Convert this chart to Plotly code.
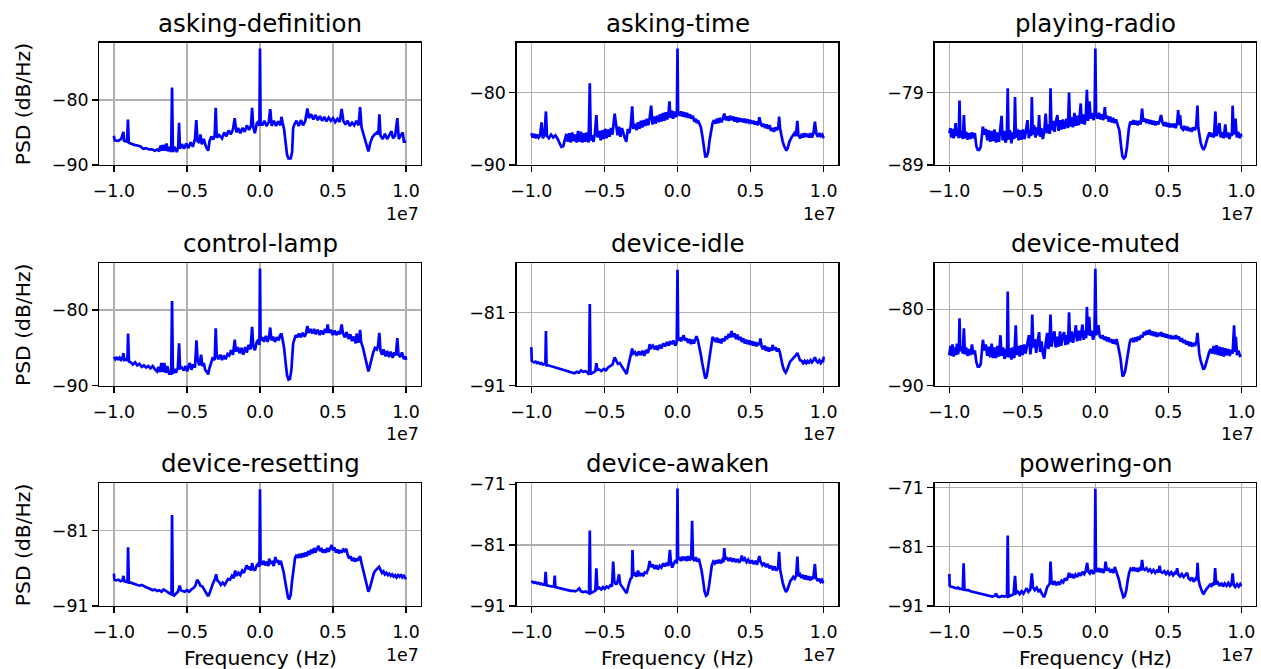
import numpy as np
import plotly.graph_objects as go

# ---------------- DATA (frequency in MHz, PSD in dB/Hz) ----------------
PANEL_TITLES = ["asking-definition", "asking-time", "playing-radio",
                "control-lamp", "device-idle", "device-muted",
                "device-resetting", "device-awaken", "powering-on"]

asking_definition = [
(-10.0,-85.5),(-9.95,-86.2),(-9.7,-86.3),(-9.5,-86.0),(-9.35,-84.9),(-9.3,-86.3),(-9.1,-86.4),(-9.04,-83.0),(-8.98,-86.6),
(-8.8,-86.8),(-8.6,-86.9),(-8.4,-87.0),(-8.2,-87.1),(-8.0,-87.5),(-7.8,-87.4),(-7.6,-87.6),(-7.4,-87.6),(-7.2,-87.8),
(-7.0,-87.6),(-6.9,-87.9),(-6.8,-87.0),(-6.7,-87.8),(-6.6,-86.9),(-6.5,-87.8),(-6.4,-86.7),(-6.3,-87.9),(-6.2,-87.2),
(-6.08,-88.0),(-6.02,-78.1),(-5.96,-88.0),(-5.85,-87.2),(-5.7,-88.0),(-5.6,-87.3),(-5.54,-83.5),(-5.48,-87.5),(-5.35,-86.8),
(-5.2,-87.5),(-5.05,-86.7),(-4.9,-87.4),(-4.75,-86.5),(-4.6,-87.2),(-4.45,-86.0),(-4.36,-83.1),(-4.28,-86.3),(-4.15,-86.6),
(-4.08,-85.3),(-3.98,-86.8),(-3.85,-86.0),(-3.7,-87.2),(-3.55,-87.8),(-3.45,-86.3),(-3.33,-85.6),(-3.2,-86.1),(-3.1,-85.4),
(-3.03,-81.2),(-2.96,-85.8),(-2.8,-85.4),(-2.6,-85.9),(-2.45,-85.0),(-2.3,-85.6),(-2.15,-84.7),(-2.0,-85.3),(-1.85,-84.5),
(-1.73,-82.8),(-1.62,-85.0),(-1.5,-84.3),(-1.35,-85.1),(-1.2,-84.3),(-1.05,-84.9),(-0.9,-83.9),(-0.75,-84.6),(-0.62,-84.0),
(-0.54,-81.2),(-0.46,-84.2),(-0.35,-85.1),(-0.22,-83.6),(-0.1,-83.3),(-0.04,-84.0),(0.0,-72.1),(0.04,-83.5),(0.15,-83.9),
(0.3,-83.2),(0.45,-84.0),(0.6,-83.4),(0.7,-81.4),(0.8,-84.0),(0.95,-83.2),(1.1,-84.0),(1.25,-83.3),(1.4,-83.9),(1.47,-82.6),
(1.55,-83.5),(1.65,-84.5),(1.75,-86.5),(1.85,-88.4),(1.95,-89.0),(2.1,-89.0),(2.2,-88.0),(2.27,-84.3),(2.35,-83.8),(2.5,-83.2),
(2.65,-84.0),(2.8,-83.1),(2.95,-83.9),(3.1,-83.2),(3.24,-81.3),(3.35,-82.8),(3.5,-82.2),(3.65,-83.0),(3.8,-82.3),(3.95,-83.1),
(4.1,-82.5),(4.25,-83.2),(4.4,-82.6),(4.55,-83.3),(4.7,-82.7),(4.85,-83.2),(5.0,-82.8),(5.15,-83.4),(5.3,-82.9),(5.45,-83.4),
(5.59,-81.4),(5.7,-83.2),(5.85,-83.8),(6.0,-83.2),(6.15,-84.0),(6.3,-83.5),(6.45,-83.9),(6.6,-83.2),(6.75,-83.9),(6.85,-81.1),
(6.95,-84.2),(7.1,-85.4),(7.25,-86.8),(7.42,-87.9),(7.55,-86.6),(7.7,-85.7),(7.85,-85.3),(8.0,-85.0),(8.1,-85.3),(8.17,-82.2),
(8.25,-85.5),(8.4,-86.0),(8.55,-85.2),(8.7,-86.0),(8.85,-85.4),(9.0,-84.8),(9.1,-85.9),(9.25,-85.5),(9.4,-82.8),(9.5,-86.0),
(9.6,-85.6),(9.77,-85.0),(9.85,-86.4),(10.0,-86.4)]

asking_time = [
(-10.0,-85.6),(-9.9,-86.2),(-9.8,-85.7),(-9.7,-86.3),(-9.6,-85.8),(-9.5,-86.2),(-9.4,-85.9),(-9.3,-84.1),(-9.22,-86.3),
(-9.1,-85.9),(-9.0,-82.6),(-8.93,-86.0),(-8.8,-86.3),(-8.65,-85.8),(-8.5,-86.2),(-8.35,-85.9),(-8.2,-86.4),(-8.05,-87.2),
(-7.95,-87.5),(-7.82,-87.4),(-7.7,-86.4),(-7.6,-85.7),(-7.5,-86.8),(-7.4,-85.6),(-7.3,-86.9),(-7.2,-85.5),(-7.1,-86.7),
(-7.0,-85.8),(-6.9,-86.9),(-6.8,-85.3),(-6.7,-86.8),(-6.6,-85.4),(-6.5,-86.9),(-6.4,-85.6),(-6.3,-86.8),(-6.2,-85.5),
(-6.08,-86.9),(-6.0,-78.7),(-5.93,-86.6),(-5.85,-85.9),(-5.75,-86.8),(-5.65,-85.6),(-5.55,-83.1),(-5.47,-86.2),(-5.35,-85.3),
(-5.25,-86.6),(-5.15,-85.2),(-5.05,-86.4),(-4.95,-85.0),(-4.85,-86.3),(-4.75,-85.1),(-4.65,-86.1),(-4.55,-84.9),(-4.45,-85.8),
(-4.3,-82.9),(-4.2,-84.8),(-4.1,-85.9),(-4.0,-84.7),(-3.9,-86.1),(-3.8,-84.9),(-3.7,-85.8),(-3.6,-86.3),(-3.5,-86.8),
(-3.4,-85.0),(-3.3,-85.6),(-3.2,-84.6),(-3.1,-81.9),(-3.02,-85.0),(-2.9,-84.3),(-2.8,-85.2),(-2.7,-84.1),(-2.6,-85.0),
(-2.5,-83.9),(-2.4,-84.8),(-2.3,-83.8),(-2.2,-84.6),(-2.1,-83.6),(-2.0,-84.5),(-1.9,-83.4),(-1.8,-81.8),(-1.72,-84.4),
(-1.6,-83.3),(-1.5,-84.3),(-1.4,-83.2),(-1.3,-84.1),(-1.2,-83.0),(-1.1,-84.0),(-1.0,-82.8),(-0.9,-83.9),(-0.8,-82.7),
(-0.7,-83.7),(-0.6,-82.5),(-0.55,-81.2),(-0.48,-83.5),(-0.38,-82.5),(-0.3,-83.6),(-0.2,-82.6),(-0.1,-83.4),(-0.04,-82.8),
(0.0,-73.9),(0.04,-82.6),(0.15,-83.2),(0.25,-82.6),(0.35,-83.3),(0.45,-82.7),(0.55,-83.4),(0.65,-82.8),(0.75,-83.5),
(0.85,-83.0),(0.95,-83.6),(1.05,-83.2),(1.15,-84.0),(1.25,-83.6),(1.3,-84.2),(1.4,-83.8),(1.5,-84.4),(1.6,-84.8),(1.7,-86.0),
(1.8,-87.8),(1.9,-88.8),(2.0,-88.8),(2.1,-88.2),(2.2,-86.5),(2.3,-85.0),(2.4,-84.2),(2.5,-83.8),(2.6,-84.3),(2.7,-83.6),
(2.8,-84.2),(2.9,-83.5),(3.0,-84.1),(3.1,-83.6),(3.2,-82.9),(3.3,-83.8),(3.4,-83.3),(3.5,-83.9),(3.6,-83.2),(3.7,-83.8),
(3.8,-83.3),(3.9,-84.0),(4.0,-83.4),(4.1,-84.1),(4.2,-83.5),(4.3,-84.0),(4.4,-83.6),(4.5,-84.1),(4.6,-83.6),(4.7,-84.2),
(4.8,-83.7),(4.9,-84.1),(5.0,-83.8),(5.1,-84.3),(5.2,-83.9),(5.3,-84.4),(5.4,-84.0),(5.5,-84.5),(5.6,-83.4),(5.7,-84.3),
(5.8,-84.7),(5.9,-84.3),(6.0,-84.9),(6.1,-84.4),(6.2,-85.0),(6.3,-84.5),(6.4,-85.3),(6.5,-84.9),(6.6,-85.4),(6.7,-84.8),
(6.8,-85.2),(6.9,-84.7),(6.95,-83.3),(7.02,-85.0),(7.1,-86.1),(7.2,-86.8),(7.3,-87.4),(7.45,-88.0),(7.55,-87.6),(7.65,-86.8),
(7.8,-86.2),(7.9,-85.9),(8.0,-85.6),(8.1,-86.0),(8.2,-83.9),(8.27,-85.9),(8.4,-86.3),(8.5,-85.7),(8.6,-86.2),(8.7,-85.6),
(8.8,-86.1),(8.9,-85.7),(9.0,-86.2),(9.1,-85.6),(9.2,-86.2),(9.3,-85.6),(9.4,-84.0),(9.5,-85.7),(9.6,-86.1),(9.7,-85.6),
(9.8,-86.0),(9.9,-85.8),(10.0,-86.3)]

playing_radio = [
(-10.0,-84.6),(-9.92,-83.9),(-9.85,-85.2),(-9.78,-84.0),(-9.7,-85.3),(-9.62,-84.4),(-9.57,-83.2),(-9.5,-85.0),(-9.42,-84.2),
(-9.36,-85.3),(-9.3,-80.1),(-9.24,-85.2),(-9.15,-84.3),(-9.07,-85.4),(-9.0,-82.1),(-8.93,-85.3),(-8.85,-84.4),(-8.75,-85.5),
(-8.65,-84.6),(-8.55,-85.4),(-8.45,-84.5),(-8.35,-85.3),(-8.25,-84.6),(-8.15,-86.4),(-8.05,-86.9),(-7.95,-86.9),(-7.85,-86.5),
(-7.75,-84.9),(-7.7,-83.7),(-7.6,-84.8),(-7.5,-84.0),(-7.4,-85.6),(-7.3,-84.2),(-7.2,-85.8),(-7.1,-84.3),(-7.0,-85.7),
(-6.9,-84.1),(-6.8,-85.9),(-6.7,-84.5),(-6.6,-85.8),(-6.5,-83.9),(-6.42,-82.2),(-6.35,-85.6),(-6.25,-84.3),(-6.15,-85.9),
(-6.06,-85.2),(-6.0,-78.4),(-5.94,-85.5),(-5.85,-84.2),(-5.75,-86.0),(-5.65,-84.5),(-5.56,-85.4),(-5.5,-79.6),(-5.44,-85.2),
(-5.35,-84.0),(-5.25,-85.6),(-5.15,-84.2),(-5.05,-85.5),(-4.95,-84.1),(-4.85,-85.4),(-4.75,-84.3),(-4.65,-82.8),(-4.55,-85.3),
(-4.45,-84.2),(-4.4,-85.0),(-4.35,-79.6),(-4.28,-84.8),(-4.2,-83.5),(-4.1,-85.2),(-4.0,-83.8),(-3.92,-84.9),(-3.85,-82.1),
(-3.78,-85.1),(-3.7,-83.9),(-3.6,-85.4),(-3.5,-84.4),(-3.4,-81.9),(-3.32,-84.6),(-3.22,-83.4),(-3.12,-84.7),(-3.07,-78.4),
(-3.0,-84.2),(-2.9,-82.9),(-2.8,-84.4),(-2.7,-83.0),(-2.6,-82.1),(-2.52,-84.3),(-2.42,-82.8),(-2.32,-84.1),(-2.22,-82.7),
(-2.12,-84.0),(-1.97,-82.6),(-1.88,-83.9),(-1.8,-79.0),(-1.73,-83.7),(-1.63,-82.4),(-1.53,-83.8),(-1.43,-81.8),(-1.33,-83.6),
(-1.23,-82.2),(-1.13,-83.5),(-1.0,-80.5),(-0.93,-83.3),(-0.83,-82.0),(-0.73,-83.4),(-0.65,-82.1),(-0.58,-78.6),(-0.5,-82.9),
(-0.4,-80.2),(-0.33,-82.6),(-0.22,-81.8),(-0.12,-82.8),(-0.05,-81.9),(0.0,-72.9),(0.05,-82.0),(0.15,-82.6),(0.25,-81.8),
(0.35,-82.7),(0.45,-82.0),(0.55,-82.8),(0.65,-81.0),(0.72,-82.6),(0.82,-82.2),(0.92,-83.0),(1.02,-82.3),(1.12,-83.1),
(1.22,-82.5),(1.32,-83.2),(1.42,-82.7),(1.55,-83.5),(1.65,-84.3),(1.75,-86.2),(1.85,-87.8),(1.95,-88.1),(2.05,-87.9),
(2.15,-86.8),(2.25,-84.4),(2.3,-83.9),(2.4,-83.0),(2.5,-83.4),(2.6,-82.8),(2.7,-83.4),(2.8,-82.9),(2.9,-83.5),(3.0,-82.9),
(3.1,-83.4),(3.2,-81.2),(3.28,-83.0),(3.4,-82.6),(3.5,-83.2),(3.6,-82.7),(3.7,-83.3),(3.8,-82.8),(3.9,-83.4),(4.0,-82.9),
(4.1,-83.5),(4.2,-83.0),(4.3,-83.4),(4.4,-82.9),(4.5,-82.1),(4.6,-83.2),(4.7,-83.6),(4.8,-83.1),(4.9,-83.7),(5.0,-83.2),
(5.1,-83.8),(5.2,-83.3),(5.3,-83.8),(5.4,-83.3),(5.5,-83.9),(5.6,-83.2),(5.67,-81.4),(5.75,-83.5),(5.8,-82.1),(5.88,-83.8),
(6.0,-84.1),(6.1,-83.6),(6.2,-84.2),(6.3,-83.7),(6.4,-84.3),(6.5,-83.9),(6.6,-84.4),(6.7,-83.8),(6.8,-84.2),(6.9,-83.7),
(6.99,-80.8),(7.05,-83.9),(7.12,-85.1),(7.22,-86.0),(7.32,-86.6),(7.42,-86.9),(7.52,-86.4),(7.62,-85.6),(7.72,-85.0),
(7.82,-84.5),(7.92,-85.1),(8.02,-84.6),(8.12,-85.2),(8.22,-81.6),(8.3,-85.0),(8.4,-84.4),(8.5,-83.2),(8.58,-85.2),(8.68,-84.5),
(8.78,-85.3),(8.9,-83.4),(8.98,-85.2),(9.08,-84.5),(9.18,-85.4),(9.28,-84.6),(9.35,-85.0),(9.4,-80.8),(9.47,-84.8),(9.6,-82.6),
(9.68,-85.2),(9.78,-84.4),(9.88,-85.3),(9.95,-84.7),(10.0,-85.1)]

control_lamp = [
(-10.0,-86.2),(-9.9,-86.5),(-9.8,-86.2),(-9.7,-86.6),(-9.6,-86.3),(-9.5,-86.6),(-9.42,-86.4),(-9.35,-85.7),(-9.28,-86.6),
(-9.15,-86.5),(-9.08,-86.7),(-9.03,-83.1),(-8.97,-86.8),(-8.85,-86.9),(-8.7,-87.2),(-8.55,-86.9),(-8.4,-87.3),(-8.25,-87.1),
(-8.1,-87.5),(-7.95,-87.3),(-7.8,-87.6),(-7.65,-87.4),(-7.5,-87.7),(-7.35,-87.4),(-7.2,-87.8),(-7.05,-88.1),(-6.95,-87.5),
(-6.85,-88.2),(-6.75,-87.0),(-6.65,-88.2),(-6.55,-87.0),(-6.45,-88.3),(-6.35,-87.4),(-6.22,-88.4),(-6.08,-88.4),(-6.02,-78.8),
(-5.96,-88.4),(-5.85,-87.8),(-5.75,-88.3),(-5.62,-87.6),(-5.54,-84.4),(-5.47,-87.7),(-5.35,-87.6),(-5.22,-88.0),(-5.1,-87.4),
(-4.98,-88.1),(-4.88,-87.3),(-4.8,-87.0),(-4.7,-87.9),(-4.58,-87.2),(-4.45,-87.6),(-4.35,-84.0),(-4.27,-86.6),(-4.15,-87.3),
(-4.03,-85.9),(-3.95,-87.4),(-3.85,-87.0),(-3.75,-87.9),(-3.63,-88.2),(-3.55,-88.5),(-3.45,-87.6),(-3.37,-87.0),(-3.25,-86.4),
(-3.1,-86.6),(-3.03,-82.4),(-2.96,-86.0),(-2.85,-86.5),(-2.72,-85.9),(-2.6,-86.6),(-2.48,-86.0),(-2.35,-86.5),(-2.22,-85.8),
(-2.1,-86.0),(-1.98,-85.3),(-1.85,-85.9),(-1.73,-83.9),(-1.65,-85.5),(-1.52,-84.9),(-1.4,-85.7),(-1.28,-85.0),(-1.15,-85.9),
(-1.02,-84.9),(-0.9,-85.6),(-0.78,-84.6),(-0.65,-85.2),(-0.54,-82.2),(-0.46,-84.8),(-0.35,-85.3),(-0.22,-84.2),(-0.1,-83.9),
(-0.04,-84.6),(0.0,-74.5),(0.04,-84.0),(0.15,-83.6),(0.27,-84.2),(0.4,-83.4),(0.52,-84.2),(0.62,-83.5),(0.7,-82.3),(0.78,-84.0),
(0.9,-83.5),(1.02,-84.2),(1.15,-83.6),(1.28,-84.0),(1.38,-83.3),(1.47,-83.1),(1.55,-83.8),(1.65,-85.0),(1.75,-86.9),(1.85,-88.6),
(1.95,-89.2),(2.05,-89.1),(2.15,-87.9),(2.22,-85.8),(2.27,-84.4),(2.35,-83.9),(2.45,-83.3),(2.55,-83.6),(2.67,-83.1),(2.8,-83.6),
(2.92,-83.0),(3.05,-83.5),(3.15,-83.1),(3.24,-82.1),(3.32,-83.0),(3.45,-82.5),(3.58,-83.1),(3.7,-82.5),(3.82,-83.2),(3.95,-82.6),
(4.08,-83.3),(4.2,-82.7),(4.33,-83.2),(4.45,-82.5),(4.55,-83.0),(4.63,-81.9),(4.72,-83.0),(4.85,-82.6),(4.98,-83.3),(5.1,-82.7),
(5.22,-83.3),(5.35,-82.8),(5.47,-83.2),(5.59,-81.9),(5.67,-83.0),(5.8,-83.6),(5.93,-82.9),(6.05,-83.8),(6.18,-83.2),(6.3,-84.1),
(6.42,-83.5),(6.55,-84.4),(6.62,-83.1),(6.72,-84.3),(6.8,-83.9),(6.85,-82.6),(6.92,-84.2),(7.05,-85.0),(7.15,-85.9),(7.25,-86.9),
(7.35,-87.8),(7.42,-88.1),(7.52,-87.4),(7.62,-86.4),(7.75,-85.6),(7.87,-85.0),(8.0,-85.2),(8.08,-84.7),(8.17,-83.0),(8.24,-85.3),
(8.35,-85.9),(8.45,-85.2),(8.58,-86.1),(8.7,-85.4),(8.82,-86.2),(8.95,-85.5),(9.08,-86.3),(9.2,-85.6),(9.3,-86.0),(9.4,-83.7),
(9.48,-85.9),(9.6,-86.2),(9.72,-85.6),(9.85,-86.5),(9.95,-86.1),(10.0,-86.6)]

device_idle = [
(-10.0,-85.7),(-9.97,-87.6),(-9.9,-87.7),(-9.8,-87.8),(-9.7,-87.7),(-9.6,-87.9),(-9.5,-87.8),(-9.4,-88.0),(-9.3,-87.9),
(-9.2,-88.1),(-9.1,-88.0),(-9.04,-88.1),(-9.0,-83.5),(-8.96,-88.2),(-8.85,-88.2),(-8.7,-88.3),(-8.55,-88.4),(-8.4,-88.5),
(-8.25,-88.6),(-8.1,-88.7),(-7.95,-88.8),(-7.8,-88.9),(-7.65,-89.0),(-7.5,-89.1),(-7.35,-89.2),(-7.2,-89.3),(-7.05,-89.3),
(-6.9,-89.1),(-6.75,-89.2),(-6.6,-88.9),(-6.45,-89.1),(-6.3,-89.0),(-6.15,-89.2),(-6.05,-89.5),(-6.0,-79.8),(-5.95,-89.4),
(-5.85,-89.3),(-5.72,-89.1),(-5.62,-89.0),(-5.55,-87.9),(-5.48,-88.8),(-5.35,-88.8),(-5.2,-89.0),(-5.05,-88.7),(-4.9,-88.9),
(-4.75,-88.5),(-4.6,-88.3),(-4.45,-88.1),(-4.3,-87.1),(-4.2,-87.6),(-4.08,-88.0),(-3.95,-87.9),(-3.82,-88.3),(-3.68,-88.8),
(-3.55,-89.3),(-3.48,-89.4),(-3.38,-88.4),(-3.25,-87.2),(-3.1,-85.9),(-3.02,-86.6),(-2.9,-86.4),(-2.78,-86.9),(-2.65,-86.3),
(-2.52,-86.8),(-2.4,-86.2),(-2.28,-86.9),(-2.15,-86.1),(-2.02,-86.5),(-1.9,-85.3),(-1.8,-85.8),(-1.68,-85.5),(-1.55,-86.0),
(-1.45,-85.5),(-1.35,-86.1),(-1.22,-85.4),(-1.1,-85.9),(-0.98,-85.2),(-0.85,-85.6),(-0.72,-85.0),(-0.6,-85.5),(-0.5,-84.9),
(-0.4,-85.3),(-0.28,-84.8),(-0.15,-85.5),(-0.05,-85.0),(0.0,-75.1),(0.05,-84.8),(0.15,-84.4),(0.25,-84.9),(0.35,-84.4),
(0.42,-84.1),(0.52,-84.8),(0.62,-84.5),(0.72,-85.1),(0.82,-84.6),(0.92,-85.3),(1.02,-84.7),(1.12,-85.2),(1.22,-84.5),
(1.3,-84.2),(1.4,-84.8),(1.5,-85.6),(1.6,-86.8),(1.7,-88.0),(1.8,-89.2),(1.9,-90.0),(2.0,-89.7),(2.1,-88.3),(2.2,-86.4),
(2.3,-85.1),(2.4,-84.3),(2.5,-84.6),(2.6,-85.0),(2.7,-84.4),(2.8,-85.1),(2.9,-84.6),(3.0,-85.2),(3.1,-84.5),(3.2,-84.9),
(3.3,-84.2),(3.4,-84.6),(3.5,-83.9),(3.6,-84.4),(3.7,-83.5),(3.8,-84.3),(3.9,-83.8),(4.0,-84.6),(4.1,-84.0),(4.2,-84.7),
(4.3,-84.3),(4.4,-85.0),(4.5,-84.5),(4.6,-85.2),(4.7,-84.7),(4.8,-85.3),(4.9,-84.8),(5.0,-85.4),(5.1,-84.9),(5.2,-85.5),
(5.3,-85.0),(5.4,-85.6),(5.5,-85.1),(5.6,-85.4),(5.67,-84.5),(5.75,-85.6),(5.85,-86.0),(5.95,-85.5),(6.05,-86.2),(6.15,-85.7),
(6.25,-86.3),(6.35,-85.8),(6.45,-86.2),(6.5,-85.4),(6.6,-86.1),(6.7,-85.7),(6.8,-86.3),(6.9,-85.9),(7.0,-86.4),(7.1,-87.5),
(7.2,-88.3),(7.3,-88.9),(7.4,-89.2),(7.5,-88.8),(7.6,-88.2),(7.7,-87.7),(7.8,-87.5),(7.9,-87.3),(8.0,-87.0),(8.1,-86.8),
(8.2,-86.5),(8.28,-87.0),(8.38,-87.5),(8.5,-87.6),(8.6,-87.9),(8.7,-87.6),(8.8,-87.9),(8.9,-87.6),(9.0,-87.8),(9.1,-87.5),
(9.2,-87.8),(9.3,-87.5),(9.4,-87.1),(9.5,-87.6),(9.6,-87.8),(9.7,-87.5),(9.8,-87.9),(9.9,-87.6),(9.95,-87.8),(10.0,-87.0)]

device_muted = [
(-10.0,-86.0),(-9.92,-84.8),(-9.85,-86.1),(-9.78,-84.6),(-9.7,-86.2),(-9.62,-85.0),(-9.55,-86.0),(-9.48,-84.5),(-9.4,-85.9),
(-9.34,-85.1),(-9.3,-81.2),(-9.25,-85.5),(-9.16,-84.9),(-9.08,-85.8),(-9.0,-82.5),(-8.93,-85.9),(-8.85,-85.0),(-8.75,-86.1),
(-8.65,-85.2),(-8.55,-86.0),(-8.45,-84.6),(-8.35,-85.9),(-8.25,-85.4),(-8.15,-86.9),(-8.05,-87.5),(-7.95,-87.5),(-7.85,-87.2),
(-7.75,-85.3),(-7.7,-84.0),(-7.6,-85.4),(-7.5,-84.6),(-7.4,-86.1),(-7.3,-84.9),(-7.2,-86.3),(-7.1,-84.5),(-7.0,-86.4),
(-6.9,-85.0),(-6.8,-86.4),(-6.7,-84.8),(-6.6,-86.2),(-6.5,-83.4),(-6.42,-86.1),(-6.32,-85.0),(-6.22,-86.5),(-6.12,-85.2),
(-6.05,-86.3),(-6.0,-77.7),(-5.94,-86.3),(-5.85,-85.1),(-5.75,-86.6),(-5.65,-85.0),(-5.55,-86.4),(-5.45,-82.1),(-5.38,-86.0),
(-5.28,-84.8),(-5.18,-86.2),(-5.08,-84.7),(-4.98,-86.0),(-4.88,-84.6),(-4.78,-85.8),(-4.68,-84.5),(-4.55,-83.4),(-4.45,-85.9),
(-4.38,-84.8),(-4.32,-80.7),(-4.25,-85.0),(-4.15,-83.9),(-4.05,-85.7),(-3.95,-84.1),(-3.85,-83.0),(-3.78,-85.6),(-3.68,-84.2),
(-3.58,-85.9),(-3.5,-86.5),(-3.4,-84.5),(-3.3,-83.1),(-3.22,-85.2),(-3.14,-84.3),(-3.07,-80.7),(-3.0,-84.9),(-2.9,-83.6),
(-2.8,-82.9),(-2.72,-85.0),(-2.62,-83.6),(-2.52,-84.9),(-2.42,-82.9),(-2.34,-84.8),(-2.24,-83.5),(-2.14,-83.0),(-2.05,-84.7),
(-1.95,-83.4),(-1.87,-84.6),(-1.8,-80.4),(-1.73,-84.3),(-1.63,-82.9),(-1.53,-84.4),(-1.43,-83.3),(-1.33,-82.1),(-1.25,-84.2),
(-1.15,-82.8),(-1.05,-84.1),(-0.95,-83.0),(-0.88,-82.0),(-0.8,-84.0),(-0.7,-82.8),(-0.63,-83.8),(-0.58,-79.7),(-0.5,-83.4),
(-0.42,-81.0),(-0.35,-83.5),(-0.25,-82.8),(-0.15,-84.0),(-0.06,-83.2),(0.0,-74.7),(0.06,-83.4),(0.2,-82.1),(0.3,-83.5),
(0.4,-83.8),(0.5,-83.4),(0.6,-84.0),(0.7,-83.6),(0.8,-84.2),(0.9,-83.7),(1.0,-84.3),(1.1,-83.9),(1.2,-84.5),(1.3,-84.0),
(1.4,-84.6),(1.45,-83.9),(1.55,-84.7),(1.65,-85.6),(1.72,-86.4),(1.8,-87.8),(1.87,-88.8),(1.95,-88.6),(2.05,-88.0),(2.15,-86.8),
(2.25,-85.5),(2.35,-84.4),(2.42,-84.0),(2.52,-83.9),(2.62,-84.3),(2.72,-83.7),(2.82,-84.2),(2.92,-83.6),(3.02,-84.0),(3.12,-83.4),
(3.22,-83.7),(3.32,-83.0),(3.42,-83.4),(3.52,-82.8),(3.62,-83.3),(3.72,-82.7),(3.82,-83.4),(3.92,-82.9),(4.02,-83.5),(4.12,-83.0),
(4.22,-83.6),(4.32,-83.1),(4.42,-83.5),(4.52,-83.0),(4.62,-83.6),(4.72,-83.2),(4.82,-83.7),(4.92,-83.3),(5.02,-83.8),(5.12,-83.4),
(5.22,-83.9),(5.32,-83.5),(5.42,-83.9),(5.52,-83.4),(5.62,-83.9),(5.72,-83.6),(5.82,-84.2),(5.92,-83.8),(6.02,-84.4),(6.12,-84.0),
(6.22,-84.6),(6.32,-84.2),(6.42,-84.8),(6.52,-84.3),(6.62,-84.9),(6.72,-84.4),(6.82,-84.8),(6.92,-84.3),(6.99,-83.1),(7.05,-84.9),
(7.12,-85.9),(7.22,-86.8),(7.32,-87.5),(7.4,-87.9),(7.5,-87.6),(7.6,-86.9),(7.7,-86.0),(7.8,-85.6),(7.9,-85.2),(8.0,-85.8),
(8.1,-84.8),(8.2,-85.9),(8.3,-84.7),(8.4,-86.0),(8.5,-84.9),(8.6,-86.1),(8.7,-85.0),(8.8,-86.2),(8.9,-85.1),(9.0,-86.0),
(9.1,-85.2),(9.2,-86.1),(9.3,-85.3),(9.4,-85.8),(9.5,-82.1),(9.57,-85.6),(9.62,-83.6),(9.7,-86.0),(9.8,-85.4),(9.9,-86.1),
(10.0,-86.0)]

device_resetting = [
(-10.0,-86.7),(-9.97,-87.5),(-9.85,-87.6),(-9.7,-87.5),(-9.55,-87.7),(-9.42,-87.6),(-9.35,-87.0),(-9.28,-87.7),(-9.15,-87.8),
(-9.07,-87.8),(-9.03,-83.2),(-8.98,-87.9),(-8.85,-87.9),(-8.7,-88.0),(-8.55,-88.1),(-8.4,-88.1),(-8.25,-88.3),(-8.1,-88.2),
(-7.95,-88.4),(-7.8,-88.5),(-7.65,-88.6),(-7.5,-88.7),(-7.35,-88.9),(-7.2,-88.8),(-7.05,-89.0),(-6.9,-88.9),(-6.75,-89.1),
(-6.6,-88.8),(-6.45,-89.0),(-6.3,-89.2),(-6.15,-89.4),(-6.06,-89.5),(-6.02,-78.9),(-5.97,-89.5),(-5.88,-89.6),(-5.75,-89.3),
(-5.62,-89.1),(-5.5,-88.3),(-5.42,-88.9),(-5.3,-89.0),(-5.15,-89.1),(-5.0,-88.9),(-4.85,-89.1),(-4.7,-88.8),(-4.55,-88.6),
(-4.42,-88.3),(-4.3,-87.5),(-4.2,-87.8),(-4.08,-88.3),(-3.95,-88.4),(-3.82,-88.8),(-3.68,-89.3),(-3.55,-89.7),(-3.45,-89.3),
(-3.35,-88.6),(-3.22,-88.0),(-3.1,-87.5),(-3.0,-86.8),(-2.92,-87.6),(-2.8,-87.8),(-2.68,-88.2),(-2.55,-87.9),(-2.42,-88.2),
(-2.3,-87.7),(-2.18,-87.4),(-2.05,-87.5),(-1.92,-87.0),(-1.8,-87.3),(-1.7,-86.3),(-1.6,-87.0),(-1.48,-86.6),(-1.35,-86.9),
(-1.22,-86.3),(-1.1,-86.6),(-0.98,-86.0),(-0.92,-85.6),(-0.82,-86.1),(-0.7,-85.8),(-0.6,-86.3),(-0.54,-85.3),(-0.46,-86.0),
(-0.35,-86.3),(-0.22,-85.6),(-0.1,-85.3),(-0.04,-85.8),(0.0,-75.5),(0.04,-85.2),(0.14,-85.5),(0.25,-85.0),(0.36,-85.6),
(0.48,-85.1),(0.58,-85.7),(0.63,-84.7),(0.72,-85.4),(0.82,-85.0),(0.94,-85.7),(1.05,-84.5),(1.12,-85.2),(1.22,-84.9),
(1.32,-85.5),(1.42,-85.0),(1.52,-85.6),(1.62,-86.5),(1.72,-87.7),(1.82,-89.0),(1.92,-89.9),(2.0,-90.1),(2.1,-89.5),(2.2,-87.6),
(2.3,-85.8),(2.4,-84.6),(2.5,-84.2),(2.6,-84.6),(2.7,-84.1),(2.8,-84.6),(2.9,-84.0),(3.0,-84.5),(3.1,-83.9),(3.2,-84.4),
(3.3,-83.7),(3.4,-84.2),(3.5,-83.5),(3.6,-84.0),(3.7,-83.3),(3.8,-83.9),(3.9,-83.4),(4.0,-83.0),(4.1,-83.7),(4.2,-83.3),
(4.3,-83.9),(4.4,-83.5),(4.5,-83.9),(4.6,-83.3),(4.7,-83.8),(4.8,-83.2),(4.9,-82.9),(5.0,-83.6),(5.1,-83.2),(5.2,-83.9),
(5.3,-83.5),(5.4,-84.0),(5.5,-83.6),(5.6,-83.9),(5.7,-83.5),(5.8,-83.7),(5.9,-83.4),(6.0,-84.2),(6.1,-84.7),(6.2,-84.4),
(6.3,-85.0),(6.4,-84.6),(6.5,-85.1),(6.6,-84.7),(6.7,-85.0),(6.78,-84.6),(6.85,-84.4),(6.95,-85.3),(7.05,-86.2),(7.15,-87.1),
(7.25,-88.0),(7.35,-88.8),(7.42,-89.1),(7.52,-88.6),(7.62,-87.8),(7.72,-86.9),(7.8,-86.6),(7.9,-86.3),(8.0,-86.1),(8.08,-85.9),
(8.15,-85.8),(8.25,-86.2),(8.35,-86.6),(8.45,-86.4),(8.55,-86.8),(8.65,-86.6),(8.75,-86.9),(8.85,-86.7),(8.95,-87.0),
(9.05,-86.8),(9.15,-87.1),(9.25,-86.9),(9.35,-87.2),(9.45,-86.9),(9.55,-87.1),(9.65,-86.8),(9.75,-87.2),(9.85,-87.0),
(9.95,-87.3),(10.0,-87.2)]

device_awaken = [
(-10.0,-86.9),(-9.9,-87.0),(-9.8,-87.2),(-9.7,-87.1),(-9.6,-87.3),(-9.5,-87.2),(-9.4,-87.4),(-9.3,-87.3),(-9.2,-87.5),
(-9.08,-87.5),(-9.02,-85.4),(-8.96,-87.6),(-8.85,-87.7),(-8.72,-87.7),(-8.6,-87.8),(-8.45,-87.8),(-8.4,-86.0),(-8.35,-87.9),
(-8.2,-88.0),(-8.05,-88.0),(-7.9,-88.1),(-7.75,-88.2),(-7.6,-88.3),(-7.45,-88.4),(-7.3,-88.5),(-7.15,-88.5),(-7.0,-88.6),
(-6.85,-88.4),(-6.72,-88.1),(-6.6,-88.6),(-6.45,-88.7),(-6.3,-88.6),(-6.15,-88.8),(-6.05,-88.9),(-6.0,-78.6),(-5.95,-88.9),
(-5.85,-88.8),(-5.72,-88.6),(-5.62,-88.5),(-5.55,-84.8),(-5.48,-88.2),(-5.35,-88.0),(-5.22,-88.3),(-5.1,-87.9),(-4.98,-88.2),
(-4.85,-87.8),(-4.72,-88.0),(-4.6,-87.6),(-4.48,-87.8),(-4.4,-83.7),(-4.32,-87.0),(-4.2,-87.5),(-4.1,-87.0),(-4.0,-85.8),
(-3.92,-87.4),(-3.8,-87.8),(-3.68,-88.3),(-3.55,-88.8),(-3.48,-88.9),(-3.35,-87.6),(-3.22,-86.6),(-3.12,-86.3),(-3.08,-81.8),
(-3.02,-86.0),(-2.9,-85.7),(-2.8,-86.2),(-2.7,-85.2),(-2.6,-86.1),(-2.48,-85.6),(-2.36,-86.1),(-2.24,-85.5),(-2.12,-85.6),
(-2.0,-84.9),(-1.9,-83.6),(-1.82,-84.6),(-1.7,-84.2),(-1.58,-84.9),(-1.46,-84.3),(-1.34,-85.0),(-1.22,-84.4),(-1.1,-84.7),
(-0.98,-84.0),(-0.86,-84.5),(-0.74,-83.9),(-0.62,-84.4),(-0.52,-81.8),(-0.44,-84.0),(-0.36,-84.7),(-0.24,-83.9),(-0.12,-83.5),
(-0.04,-84.0),(0.0,-71.7),(0.04,-83.4),(0.14,-83.0),(0.24,-83.6),(0.34,-82.9),(0.44,-83.5),(0.54,-82.9),(0.64,-83.6),
(0.74,-82.8),(0.84,-83.5),(0.94,-83.1),(1.0,-77.0),(1.06,-83.2),(1.16,-83.6),(1.26,-83.0),(1.36,-83.7),(1.46,-83.2),(1.55,-84.0),
(1.65,-85.2),(1.75,-86.8),(1.85,-88.6),(1.95,-89.3),(2.05,-89.1),(2.15,-87.8),(2.25,-85.6),(2.35,-84.3),(2.45,-83.7),(2.55,-84.0),
(2.65,-83.5),(2.75,-84.0),(2.85,-83.4),(2.95,-84.0),(3.05,-83.5),(3.14,-83.8),(3.2,-81.5),(3.27,-83.4),(3.38,-83.0),(3.5,-83.6),
(3.62,-83.1),(3.74,-83.7),(3.86,-83.2),(3.98,-83.8),(4.1,-83.3),(4.22,-83.9),(4.34,-83.3),(4.4,-82.7),(4.48,-83.6),(4.6,-83.2),
(4.72,-83.8),(4.84,-83.4),(4.96,-84.0),(5.08,-83.5),(5.2,-84.1),(5.32,-83.6),(5.44,-84.2),(5.52,-83.6),(5.6,-82.8),(5.68,-83.7),
(5.8,-84.3),(5.92,-83.9),(6.04,-84.6),(6.16,-84.1),(6.28,-84.8),(6.4,-84.4),(6.52,-85.1),(6.64,-84.5),(6.76,-85.2),(6.88,-84.7),
(6.95,-82.1),(7.02,-85.0),(7.1,-86.3),(7.2,-87.2),(7.3,-88.0),(7.42,-88.7),(7.52,-88.3),(7.62,-87.5),(7.72,-86.9),(7.82,-86.6),
(7.92,-86.2),(8.02,-86.5),(8.12,-86.0),(8.2,-82.9),(8.27,-86.1),(8.38,-85.8),(8.48,-86.4),(8.58,-85.9),(8.68,-86.6),(8.78,-86.0),
(8.88,-86.7),(8.98,-86.1),(9.08,-86.8),(9.18,-86.2),(9.28,-86.6),(9.4,-84.1),(9.47,-86.3),(9.58,-86.9),(9.68,-86.5),(9.78,-87.0),
(9.88,-86.7),(9.95,-87.1),(10.0,-87.2)]

powering_on = [
(-10.0,-85.6),(-9.97,-87.6),(-9.9,-87.7),(-9.8,-87.8),(-9.7,-87.8),(-9.6,-87.9),(-9.5,-88.0),(-9.4,-87.9),(-9.3,-88.1),
(-9.2,-88.1),(-9.08,-88.2),(-9.02,-83.8),(-8.96,-88.2),(-8.85,-88.3),(-8.7,-88.3),(-8.55,-88.5),(-8.4,-88.6),(-8.25,-88.7),
(-8.1,-88.8),(-7.95,-88.9),(-7.8,-89.0),(-7.65,-89.0),(-7.5,-89.1),(-7.35,-89.2),(-7.2,-89.3),(-7.05,-89.4),(-6.9,-89.3),
(-6.8,-88.9),(-6.7,-89.4),(-6.55,-89.5),(-6.4,-89.3),(-6.25,-89.4),(-6.12,-89.3),(-6.05,-89.4),(-6.0,-79.1),(-5.95,-89.4),
(-5.85,-89.3),(-5.72,-89.1),(-5.6,-89.0),(-5.5,-85.9),(-5.42,-88.8),(-5.3,-88.6),(-5.18,-89.0),(-5.05,-88.5),(-4.92,-88.9),
(-4.8,-88.4),(-4.7,-88.0),(-4.58,-88.6),(-4.45,-88.2),(-4.35,-85.5),(-4.27,-87.8),(-4.15,-88.3),(-4.02,-87.9),(-3.9,-88.5),
(-3.78,-88.3),(-3.65,-89.0),(-3.52,-89.5),(-3.42,-88.9),(-3.3,-87.8),(-3.2,-87.5),(-3.12,-87.2),(-3.07,-83.5),(-3.0,-86.9),
(-2.9,-87.4),(-2.8,-86.8),(-2.68,-87.5),(-2.56,-86.9),(-2.44,-87.4),(-2.32,-86.7),(-2.2,-87.0),(-2.08,-86.3),(-1.96,-86.7),
(-1.85,-85.8),(-1.8,-85.4),(-1.72,-86.2),(-1.6,-85.6),(-1.48,-86.3),(-1.36,-85.7),(-1.24,-86.1),(-1.12,-85.4),(-1.0,-85.9),
(-0.88,-85.2),(-0.76,-85.6),(-0.65,-85.0),(-0.56,-83.7),(-0.48,-85.2),(-0.38,-85.5),(-0.26,-84.9),(-0.14,-85.6),(-0.04,-85.0),
(0.0,-71.2),(0.04,-84.8),(0.14,-85.2),(0.24,-84.6),(0.34,-85.3),(0.44,-84.7),(0.54,-85.4),(0.64,-84.9),(0.7,-83.5),(0.78,-85.0),
(0.9,-84.6),(1.02,-85.3),(1.14,-84.8),(1.24,-85.4),(1.33,-84.4),(1.42,-85.0),(1.52,-85.6),(1.62,-86.6),(1.72,-87.8),(1.82,-88.9),
(1.92,-89.5),(2.02,-89.3),(2.12,-88.3),(2.22,-86.6),(2.32,-85.3),(2.42,-84.7),(2.52,-84.9),(2.62,-84.5),(2.72,-85.1),(2.82,-84.6),
(2.92,-85.2),(3.02,-84.7),(3.12,-85.0),(3.2,-83.2),(3.27,-84.7),(3.38,-84.9),(3.5,-84.6),(3.62,-85.1),(3.74,-84.8),(3.86,-85.3),
(3.98,-84.9),(4.1,-85.4),(4.22,-85.0),(4.34,-85.3),(4.4,-84.2),(4.47,-85.2),(4.6,-85.4),(4.72,-85.1),(4.84,-85.6),(4.96,-85.2),
(5.08,-85.7),(5.2,-85.3),(5.32,-85.8),(5.44,-85.4),(5.52,-85.6),(5.6,-84.6),(5.68,-85.7),(5.8,-86.0),(5.92,-85.6),(6.04,-86.1),
(6.16,-85.7),(6.28,-85.4),(6.38,-86.3),(6.5,-86.6),(6.62,-86.2),(6.74,-86.9),(6.86,-86.4),(6.94,-86.6),(7.0,-83.7),(7.06,-86.5),
(7.15,-87.5),(7.25,-88.3),(7.35,-88.8),(7.42,-88.9),(7.52,-88.6),(7.62,-88.1),(7.75,-87.7),(7.85,-87.4),(7.95,-87.6),(8.05,-87.1),
(8.14,-87.5),(8.2,-84.6),(8.27,-87.3),(8.38,-87.0),(8.5,-87.6),(8.62,-87.1),(8.74,-87.7),(8.86,-87.2),(8.98,-87.6),(9.1,-87.1),
(9.22,-87.6),(9.32,-87.3),(9.4,-85.5),(9.47,-87.4),(9.58,-87.8),(9.7,-87.3),(9.82,-87.7),(9.92,-87.3),(10.0,-87.6)]

PANELS = [asking_definition, asking_time, playing_radio,
          control_lamp, device_idle, device_muted,
          device_resetting, device_awaken, powering_on]

Y_TICKS = [[-90, -80], [-90, -80], [-89, -79],
           [-90, -80], [-91, -81], [-90, -80],
           [-91, -81], [-91, -81, -71], [-91, -81, -71]]
X_TICKS = [-1.0e7, -0.5e7, 0.0, 0.5e7, 1.0e7]
X_TICK_TEXT = ["\u22121.0", "\u22120.5", "0.0", "0.5", "1.0"]

# ---------------- LAYOUT ----------------
W, H = 1261, 669
COLS_PX = [(99.3, 420.7), (516.7, 838.3), (934.7, 1256.0)]
ROWS_PX = [(42.7, 165.0), (263.3, 385.7), (483.3, 606.0)]
Y_RANGES = [(-90, -71.2), (-90, -73.1), (-89, -72.1),
            (-90, -73.8), (-91, -74.2), (-90, -74.0),
            (-91, -74.7), (-91, -70.85), (-91, -70.26)]
FONT = "DejaVu Sans"
TICK_SIZE = 17.4
LABEL_SIZE = 20.3
BLUE = "#0000ff"
GRID = "#b0b0b0"

fig = go.Figure()
annotations = []
layout = dict(template="none", width=W, height=H, autosize=False,
              margin=dict(l=0, r=0, t=0, b=0, pad=0),
              paper_bgcolor="white", plot_bgcolor="white", showlegend=False,
              font=dict(family=FONT, size=TICK_SIZE, color="black"))

def minus(v):
    return ("\u2212" + str(abs(v))) if v < 0 else str(v)

for i, data in enumerate(PANELS):
    r, c = divmod(i, 3)
    x0, x1 = COLS_PX[c]
    y0, y1 = ROWS_PX[r]
    xd = [x0 / W, x1 / W]
    yd = [1 - y1 / H, 1 - y0 / H]
    n = i + 1
    xa = "xaxis" if n == 1 else f"xaxis{n}"
    ya = "yaxis" if n == 1 else f"yaxis{n}"
    freq_hz = np.array([p[0] for p in data]) * 1e6
    psd = np.array([p[1] for p in data])
    fig.add_trace(go.Scatter(x=freq_hz, y=psd, mode="lines",
                             line=dict(color=BLUE, width=2.7),
                             xaxis=f"x{n}", yaxis=f"y{n}", hoverinfo="skip"))
    common = dict(showline=True, mirror=True, linecolor="black", linewidth=1.3,
                  ticks="outside", ticklen=6, tickwidth=1.3, tickcolor="black",
                  showgrid=True, gridcolor=GRID, gridwidth=1.3, zeroline=False,
                  automargin=False,
                  tickfont=dict(family=FONT, size=TICK_SIZE, color="black"))
    layout[xa] = dict(domain=xd, anchor=f"y{n}", range=[-1.1e7, 1.1e7],
                      tickmode="array", tickvals=X_TICKS, ticktext=X_TICK_TEXT,
                      ticklabelstandoff=4, **common)
    layout[ya] = dict(domain=yd, anchor=f"x{n}", range=list(Y_RANGES[i]),
                      tickmode="array", tickvals=Y_TICKS[i],
                      ticktext=[minus(v) for v in Y_TICKS[i]], **common)
    annotations.append(dict(text=PANEL_TITLES[i], xref="paper", yref="paper",
                            x=(x0 + x1) / 2 / W, y=1 - y0 / H, xanchor="center", yanchor="bottom",
                            yshift=3, showarrow=False, font=dict(family=FONT, size=24.5, color="black")))
    annotations.append(dict(text="1e7", xref="paper", yref="paper",
                            x=x1 / W, y=1 - (y1 + 48.5) / H, xanchor="right", yanchor="middle",
                            showarrow=False, font=dict(family=FONT, size=TICK_SIZE, color="black")))
    if c == 0:
        annotations.append(dict(text="PSD (dB/Hz)", xref="paper", yref="paper",
                                x=22.5 / W, y=1 - (y0 + y1) / 2 / H, xanchor="center", yanchor="middle",
                                textangle=-90, showarrow=False,
                                font=dict(family=FONT, size=LABEL_SIZE, color="black")))
    if r == 2:
        annotations.append(dict(text="Frequency (Hz)", xref="paper", yref="paper",
                                x=(x0 + x1) / 2 / W, y=1 - 657.5 / H, xanchor="center", yanchor="middle",
                                showarrow=False, font=dict(family=FONT, size=LABEL_SIZE, color="black")))

layout["annotations"] = annotations
fig.update_layout(**layout)
fig.write_html("out.html", config={"responsive": False, "displayModeBar": False, "staticPlot": True},
               post_script="document.body.style.margin='0';document.body.style.padding='0';document.body.style.overflow='hidden';")
